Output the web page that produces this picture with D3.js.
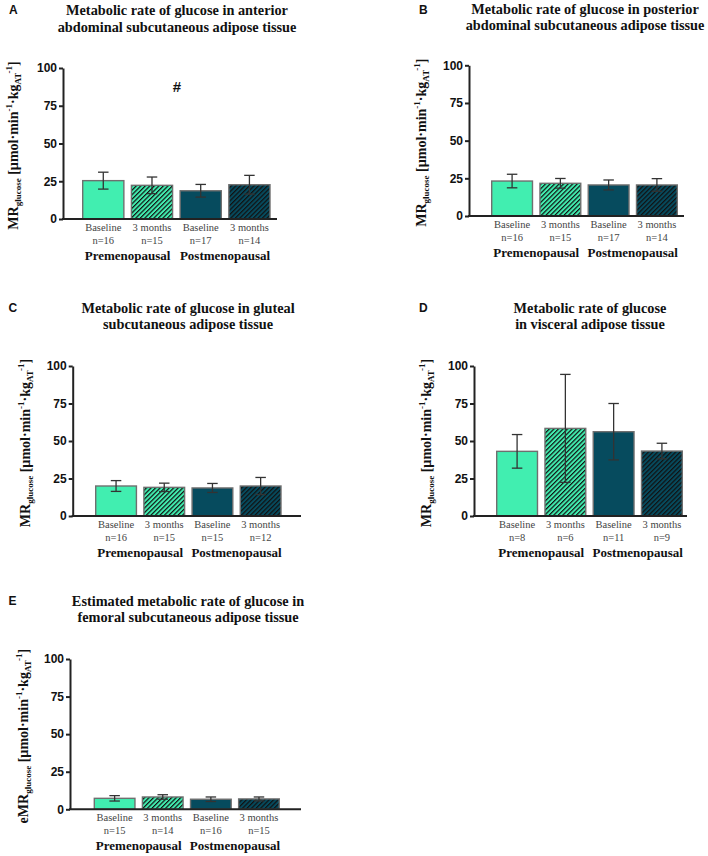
<!DOCTYPE html>
<html>
<head>
<meta charset="utf-8">
<script src="https://cdnjs.cloudflare.com/ajax/libs/d3/7.8.5/d3.min.js"></script>
<style>
  html, body { margin: 0; padding: 0; background: #fff; }
  svg { display: block; }
</style>
</head>
<body>
<div id="chart"></div>
<script>
// ---------- DATA ----------
const categories = ["Baseline", "3 months", "Baseline", "3 months"];
const groups = ["Premenopausal", "Postmenopausal"];
const yTicks = [0, 25, 50, 75, 100];

const panelLetters = ["A", "B", "C", "D", "E"];
const titles = [
  ["Metabolic rate of glucose in anterior", "abdominal subcutaneous adipose tissue"],
  ["Metabolic rate of glucose in posterior", "abdominal subcutaneous adipose tissue"],
  ["Metabolic rate of glucose in gluteal", "subcutaneous adipose tissue"],
  ["Metabolic rate of glucose", "in visceral adipose tissue"],
  ["Estimated metabolic rate of glucose in", "femoral subcutaneous adipose tissue"]
];
const yLabelPrefix = ["MR", "MR", "MR", "MR", "eMR"];

const meanA = [25.4, 22.3, 18.7, 22.7];
const errA  = [5.6, 5.5, 4.2, 6.2];
const nA    = [16, 15, 17, 14];

const meanB = [23.2, 21.7, 20.6, 20.6];
const errB  = [4.5, 3.2, 3.3, 4.2];
const nB    = [16, 15, 17, 14];

const meanC = [20.0, 19.1, 18.7, 20.0];
const errC  = [3.6, 2.8, 3.0, 5.7];
const nC    = [16, 15, 15, 12];

const meanD = [43.1, 58.4, 56.2, 43.3];
const errD  = [11.2, 36.0, 18.8, 5.2];
const nD    = [8, 6, 11, 9];

const meanE = [7.3, 8.2, 6.7, 6.9];
const errE  = [1.8, 1.5, 1.5, 1.3];
const nE    = [15, 14, 16, 15];

const significance = ["#", "", "", "", ""];

const means = [meanA, meanB, meanC, meanD, meanE];
const errs  = [errA, errB, errC, errD, errE];
const ns    = [nA, nB, nC, nD, nE];

// ---------- LAYOUT (positions only) ----------
const layout = [
  { axisX: 63,    yTop: 68,    yBot: 219,   band: [82.7, 270],   axisEnd: 277, titleX: 177,   titleY: [15, 31.5],    letter: [9, 14],     yLabX: 13,  sigPos: [177, 92] },
  { axisX: 469,   yTop: 65.3,  yBot: 216,   band: [491.7, 677.3],axisEnd: 684, titleX: 585,   titleY: [13.5, 29.5],  letter: [419, 13.5], yLabX: 421 },
  { axisX: 72.7,  yTop: 366,   yBot: 516,   band: [95.7, 281],   axisEnd: 301, titleX: 188,   titleY: [312.5, 329],  letter: [8.5, 311.5],yLabX: 25 },
  { axisX: 474,   yTop: 366,   yBot: 516,   band: [496.7, 682.3],axisEnd: 687, titleX: 590,   titleY: [312.5, 329],  letter: [419, 311.5],yLabX: 426 },
  { axisX: 70,    yTop: 659,   yBot: 809.3, band: [94.3, 279.3], axisEnd: 301, titleX: 188,   titleY: [605.5, 622],  letter: [8.5, 605],  yLabX: 23 }
];

const colLight = "#41EEB0";
const colDark  = "#064B5E";
const fills = [colLight, "url(#hatchLight)", colDark, "url(#hatchDark)"];

const serif = "Liberation Serif";
const sans  = "Liberation Sans";

const svg = d3.select("#chart").append("svg")
  .attr("width", 708).attr("height", 856);

const defs = svg.append("defs");
function hatch(id, bg) {
  const p = defs.append("pattern")
    .attr("id", id)
    .attr("patternUnits", "userSpaceOnUse")
    .attr("width", 3.2).attr("height", 3.2)
    .attr("patternTransform", "rotate(45)");
  p.append("rect").attr("width", 3.2).attr("height", 3.2).attr("fill", bg);
  p.append("rect").attr("x", 0).attr("y", 0).attr("width", 1.2).attr("height", 3.2).attr("fill", "#111");
}
hatch("hatchLight", colLight);
hatch("hatchDark", colDark);

layout.forEach((L, pi) => {
  const g = svg.append("g");
  const x = d3.scaleBand().domain(d3.range(categories.length)).range(L.band).paddingInner(0.155).paddingOuter(0);
  const y = d3.scaleLinear().domain([0, 100]).range([L.yBot, L.yTop]);

  // panel letter
  g.append("text").attr("x", L.letter[0]).attr("y", L.letter[1])
    .style("font-family", sans).style("font-weight", "bold").style("font-size", "12px")
    .attr("fill", "#111").text(panelLetters[pi]);

  // title
  titles[pi].forEach((t, li) => {
    g.append("text").attr("x", L.titleX).attr("y", L.titleY[li])
      .attr("text-anchor", "middle")
      .style("font-family", serif).style("font-weight", "bold").style("font-size", "14.3px")
      .attr("fill", "#111").text(t);
  });

  // bars
  const data = means[pi].map((m, i) => ({ i, m, e: errs[pi][i], n: ns[pi][i] }));
  g.selectAll("rect.bar").data(data).enter().append("rect")
    .attr("class", "bar")
    .attr("x", d => x(d.i))
    .attr("y", d => y(d.m))
    .attr("width", x.bandwidth())
    .attr("height", d => y(0) - y(d.m))
    .attr("fill", d => fills[d.i])
    .attr("stroke", "#6f6f6f").attr("stroke-width", 1.4);

  // error bars
  const capW = 10.5;
  const eb = g.selectAll("g.err").data(data).enter().append("g").attr("class", "err")
    .attr("stroke", "#333").attr("stroke-width", 1.3).attr("fill", "none");
  eb.append("line")
    .attr("x1", d => x(d.i) + x.bandwidth() / 2).attr("x2", d => x(d.i) + x.bandwidth() / 2)
    .attr("y1", d => y(d.m + d.e)).attr("y2", d => y(d.m - d.e));
  eb.append("line")
    .attr("x1", d => x(d.i) + x.bandwidth() / 2 - capW / 2).attr("x2", d => x(d.i) + x.bandwidth() / 2 + capW / 2)
    .attr("y1", d => y(d.m + d.e)).attr("y2", d => y(d.m + d.e));
  eb.append("line")
    .attr("x1", d => x(d.i) + x.bandwidth() / 2 - capW / 2).attr("x2", d => x(d.i) + x.bandwidth() / 2 + capW / 2)
    .attr("y1", d => y(d.m - d.e)).attr("y2", d => y(d.m - d.e));

  // y axis
  const yAxis = d3.axisLeft(y).tickValues(yTicks).tickSize(4).tickPadding(2).tickSizeOuter(0);
  const ya = g.append("g").attr("transform", `translate(${L.axisX},0)`).call(yAxis);
  ya.attr("font-family", null).attr("font-size", null);
  ya.select(".domain").attr("stroke", "#222").attr("stroke-width", 2);
  ya.selectAll(".tick line").attr("stroke", "#222").attr("stroke-width", 2);
  ya.selectAll(".tick text").style("font-family", sans).style("font-weight", "bold")
    .style("font-size", "12px").attr("fill", "#111");

  // x axis line
  g.append("line").attr("x1", L.axisX - 1).attr("x2", L.axisEnd)
    .attr("y1", y(0)).attr("y2", y(0))
    .attr("stroke", "#222").attr("stroke-width", 2);

  // category labels
  data.forEach(d => {
    const cx = x(d.i) + x.bandwidth() / 2;
    g.append("text").attr("x", cx).attr("y", y(0) + 12)
      .attr("text-anchor", "middle").style("font-family", serif).style("font-size", "10.5px")
      .attr("fill", "#444").text(categories[d.i]);
    g.append("text").attr("x", cx).attr("y", y(0) + 24.5)
      .attr("text-anchor", "middle").style("font-family", serif).style("font-size", "10.5px")
      .attr("fill", "#444").text("n=" + d.n);
  });

  // group labels
  groups.forEach((gr, gi) => {
    const cx = (x(gi * 2) + x(gi * 2 + 1) + x.bandwidth()) / 2;
    g.append("text").attr("x", cx).attr("y", y(0) + 41)
      .attr("text-anchor", "middle").style("font-family", serif).style("font-weight", "bold")
      .style("font-size", "13px").attr("fill", "#111").text(gr);
  });

  // y label
  const midY = (L.yTop + L.yBot) / 2 + 2;
  const yl = g.append("text")
    .attr("transform", `translate(${L.yLabX + 5},${midY}) rotate(-90)`)
    .attr("text-anchor", "middle")
    .style("font-family", serif).style("font-weight", "bold").style("font-size", "14px")
    .attr("fill", "#111");
  yl.append("tspan").text(yLabelPrefix[pi]);
  yl.append("tspan").style("font-size", "9px").attr("dy", 3).text("glucose");
  yl.append("tspan").attr("dy", -3).text(" [µmol·min");
  yl.append("tspan").style("font-size", "9px").attr("dy", -6).text("-1");
  yl.append("tspan").attr("dy", 6).text("·kg");
  yl.append("tspan").style("font-size", "9px").attr("dy", 3).text("AT");
  yl.append("tspan").style("font-size", "9px").attr("dy", -9).text("-1");
  yl.append("tspan").attr("dy", 6).text("]");

  // significance marker
  if (significance[pi]) {
    g.append("text").attr("x", L.sigPos[0]).attr("y", L.sigPos[1])
      .attr("text-anchor", "middle").style("font-family", sans).style("font-weight", "bold")
      .style("font-size", "15px").attr("fill", "#111").text(significance[pi]);
  }
});
</script>
</body>
</html>
